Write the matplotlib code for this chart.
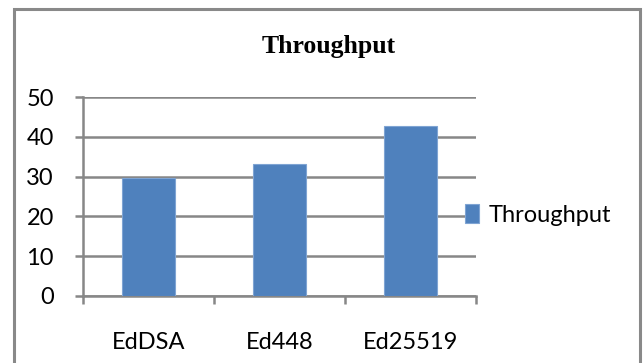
import numpy as np
import matplotlib
matplotlib.use('Agg')
from matplotlib import pyplot as plt
from matplotlib.patches import Rectangle

categories = ['EdDSA', 'Ed448', 'Ed25519']
throughput = [29.6, 33.1, 42.8]
yticks = [0, 10, 20, 30, 40, 50]

grey = '#878787'
blue = '#4F81BD'

plt.rcParams['font.family'] = ['Lato', 'DejaVu Sans']

fig = plt.figure(figsize=(6.43, 3.63), dpi=100)
ax = fig.add_axes([83/643, 1-296/363, (476-83)/643, (296-97)/363])

x = np.arange(len(categories))
ax.bar(x, throughput, width=0.4, color=blue, edgecolor='#7FA4D3', linewidth=0.8,
       label='Throughput', zorder=3)

ax.set_xlim(-0.5, len(categories)-0.5)
ax.set_ylim(0, 50)
ax.set_yticks(yticks)
ax.set_yticklabels([str(v) for v in yticks], fontsize=17, color='black')
ax.yaxis.grid(True, color=grey, linewidth=1.8, zorder=0)

# boundary ticks without labels, category labels on minor ticks
ax.set_xticks(np.arange(len(categories)+1)-0.5)
ax.set_xticklabels([])
ax.set_xticks(x, minor=True)
ax.set_xticklabels(categories, minor=True, fontsize=17)
ax.tick_params(axis='x', which='major', direction='out', length=6, width=1.8, color=grey)
ax.tick_params(axis='x', which='minor', length=0, pad=26)
ax.tick_params(axis='y', direction='out', length=6, width=1.8, color=grey, pad=15)

for s in ['top', 'right']:
    ax.spines[s].set_visible(False)
for s in ['left', 'bottom']:
    ax.spines[s].set_color(grey)
    ax.spines[s].set_linewidth(1.8)

fig.text(329/643, 1-47/363, 'Throughput', family='Liberation Serif', fontweight='bold',
         fontsize=18.5, ha='center', va='center')

fig.legend(loc='center left', bbox_to_anchor=(465/643, 1-215/363), frameon=False,
           fontsize=17, handlelength=0.6, handleheight=0.85, handletextpad=0.4,
           borderpad=0, borderaxespad=0)

fig.patches.append(Rectangle((14/643, -0.1), (640-14)/643, 1.1-9/363,
                             transform=fig.transFigure, fill=False,
                             edgecolor='#898989', linewidth=2.2))

fig.savefig('out.png', dpi=100)
